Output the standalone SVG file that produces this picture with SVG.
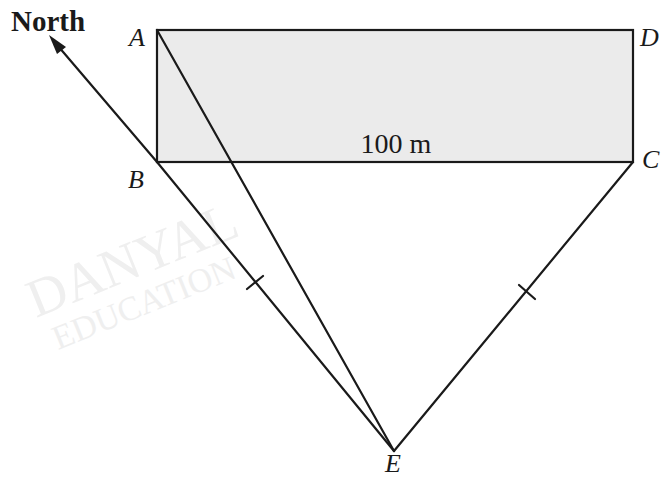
<svg xmlns="http://www.w3.org/2000/svg" width="662" height="479" viewBox="0 0 662 479">
<style>
.ln{stroke:#1a1a1a;stroke-width:2.2;fill:none;stroke-linecap:round}
.lb{font-family:"Liberation Serif",serif;font-style:italic;font-size:26px;fill:#1a1a1a}
.tx{font-family:"Liberation Serif",serif;font-size:28px;fill:#1a1a1a}
.wm{font-family:"Liberation Serif",serif;fill:#efefef}
</style>
<rect width="662" height="479" fill="#fff"/>
<g id="watermark">
<text class="wm" font-size="54" transform="translate(36,318) rotate(-22)">DANYAL</text>
<text class="wm" font-size="34" transform="translate(58,350) rotate(-22)">EDUCATION</text>
</g>
<g id="field">
<rect x="157" y="30" width="476" height="132" fill="#ebebeb" stroke="#1a1a1a" stroke-width="2.2"/>
<text class="tx" x="396" y="153" text-anchor="middle">100 m</text>
</g>
<g id="connectors">
<line class="ln" x1="394" y1="451" x2="157" y2="162"/>
<line class="ln" x1="157" y1="162" x2="58" y2="46"/>
<path d="M49,35 L66,47 L57,54 z" fill="#1a1a1a"/>
<line class="ln" x1="394" y1="451" x2="157" y2="30"/>
<line class="ln" x1="394" y1="451" x2="633" y2="162"/>
<line class="ln" x1="247" y1="289" x2="263" y2="276"/>
<line class="ln" x1="519" y1="285" x2="535" y2="299"/>
</g>
<g id="labels">
<text x="11" y="31" font-family="'Liberation Serif',serif" font-weight="bold" font-size="29" fill="#1a1a1a">North</text>
<text class="lb" x="129" y="46">A</text>
<text class="lb" x="640" y="46">D</text>
<text class="lb" x="128" y="188">B</text>
<text class="lb" x="642" y="168">C</text>
<text class="lb" x="385" y="472" font-size="25">E</text>
</g>
</svg>
